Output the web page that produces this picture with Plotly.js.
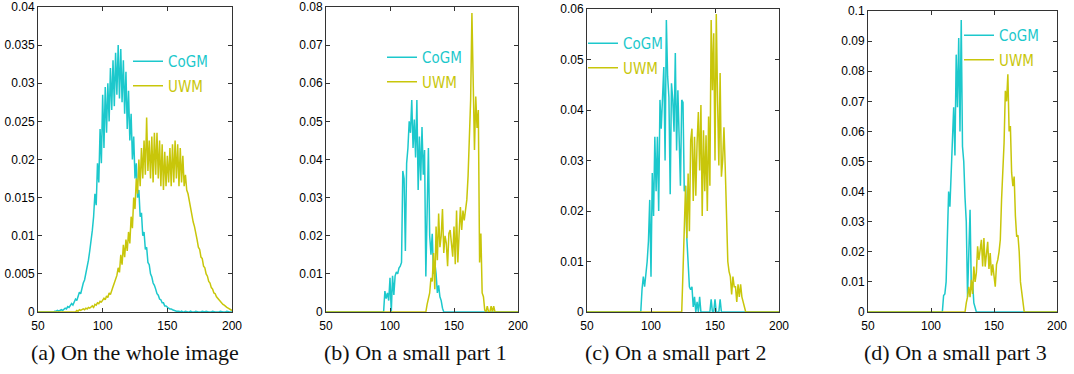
<!DOCTYPE html>
<html>
<head>
<meta charset="utf-8">
<script src="https://cdn.plot.ly/plotly-3.0.1.min.js"></script>
<style>html,body{margin:0;padding:0;background:#fff;}#chart{width:1074px;height:374px;}</style>
</head>
<body>
<div id="chart"></div>
<script>
// grey-level bins (histogram abscissa), 50..200
const levels = [];
for (let v = 50; v <= 200; v++) levels.push(v);

const xTicks = [50, 100, 150, 200];
const captions = ["(a) On the whole image", "(b) On a small part 1", "(c) On a small part 2", "(d) On a small part 3"];
const seriesNames = ["CoGM", "UWM"];
const yMax = [0.04, 0.08, 0.06, 0.1];
const yStep = [0.005, 0.01, 0.01, 0.01];

// (a) whole image
const cogmA = [
0,0,0,0,0,0,0,0,0,0,
0,0,0,0.0001,0.0001,0.0002,0.0001,0.0002,0.0003,0.0002,
0.0004,0.0005,0.0004,0.0007,0.0006,0.0009,0.0011,0.0009,0.0014,0.0017,
0.0015,0.0022,0.0026,0.0024,0.0033,0.0038,0.0042,0.0050,0.0057,0.0068,
0.0080,0.0092,0.0107,0.0125,0.0155,0.0140,0.0195,0.0170,0.0240,0.0195,
0.0285,0.0215,0.0295,0.0235,0.0300,0.0250,0.0320,0.0265,0.0330,0.0270,
0.0340,0.0285,0.0350,0.0280,0.0345,0.0275,0.0330,0.0260,0.0315,0.0240,
0.0290,0.0225,0.0260,0.0200,0.0230,0.0175,0.0195,0.0150,0.0160,0.0125,
0.0130,0.0100,0.0105,0.0082,0.0085,0.0065,0.0062,0.0050,0.0046,0.0038,
0.0035,0.0030,0.0024,0.0022,0.0017,0.0016,0.0012,0.0012,0.0008,0.0008,
0.0006,0.0005,0.0004,0.0004,0.0003,0.0002,0.0002,0.0001,0.0001,0.0001,
0,0.0001,0,0,0.0001,0,0,0,0.0001,0,
0,0,0.0001,0,0,0,0,0.0001,0,0,
0.0001,0,0,0,0,0.0001,0,0,0,0,
0,0.0001,0,0,0,0,0.0001,0,0,0,
0];
const uwmA = [
0,0,0,0,0,0,0,0,0,0,
0,0,0,0,0,0,0,0,0,0,
0,0,0,0,0,0,0,0,0,0,
0.0002,0.0001,0.0003,0.0002,0.0003,0.0004,0.0003,0.0005,0.0004,0.0006,
0.0005,0.0007,0.0008,0.0006,0.0010,0.0009,0.0012,0.0011,0.0014,0.0013,
0.0016,0.0018,0.0016,0.0021,0.0019,0.0025,0.0023,0.0030,0.0033,0.0038,
0.0042,0.0048,0.0058,0.0052,0.0075,0.0062,0.0088,0.0072,0.0095,0.0080,
0.0105,0.0090,0.0125,0.0110,0.0150,0.0135,0.0175,0.0155,0.0200,0.0165,
0.0215,0.0175,0.0225,0.0180,0.0255,0.0185,0.0225,0.0175,0.0230,0.0170,
0.0235,0.0180,0.0235,0.0175,0.0225,0.0165,0.0220,0.0160,0.0210,0.0165,
0.0205,0.0170,0.0215,0.0165,0.0220,0.0170,0.0225,0.0175,0.0220,0.0165,
0.0215,0.0170,0.0205,0.0165,0.0180,0.0160,0.0155,0.0145,0.0135,0.0128,
0.0118,0.0112,0.0100,0.0095,0.0085,0.0082,0.0072,0.0070,0.0060,0.0058,
0.0050,0.0047,0.0040,0.0038,0.0032,0.0030,0.0025,0.0024,0.0020,0.0018,
0.0015,0.0014,0.0012,0.0010,0.0009,0.0007,0.0006,0.0005,0.0004,0.0003,
0.0002];

// (b) small part 1
const cogmB = [
0,0,0,0,0,0,0,0,0,0,
0,0,0,0,0,0,0,0,0,0,
0,0,0,0,0,0,0,0,0,0,
0,0,0,0,0,0,0,0,0,0,
0,0,0,0,0,0,0.0055,0.0035,0.0050,0.0030,
0.0090,0,0.0095,0.0045,0.0095,0.0105,0.0100,0.0115,0.0120,0.0130,
0.0370,0.0350,0.0160,0.0390,0.0430,0.0500,0.0470,0.0556,0.0430,0.0505,
0.0405,0.0556,0.0320,0.0460,0.0345,0.0485,0.0360,0.0425,0.0093,0.0250,
0.0430,0.0200,0.0150,0.0205,0.0100,0.0130,0.0100,0.0050,0.0070,0.0040,
0.0030,0.0010,0,0,0,0,0,0,0,0,
0,0,0,0,0,0,0,0,0,0,
0,0,0,0,0,0,0,0,0,0,
0,0,0,0,0,0,0,0,0,0,
0,0,0,0,0,0,0,0,0,0,
0,0,0,0,0,0,0,0,0,0,
0];
const uwmB = [
0,0,0,0,0,0,0,0,0,0,
0,0,0,0,0,0,0,0,0,0,
0,0,0,0,0,0,0,0,0,0,
0,0,0,0,0,0,0,0,0,0,
0,0,0,0,0,0,0,0,0,0,
0,0,0,0,0,0,0,0,0,0,
0,0,0,0,0,0,0,0,0,0,
0,0,0,0,0,0,0,0,0,0.0020,
0.0040,0.0050,0.0090,0.0080,0.0155,0.0060,0.0224,0.0136,0.0258,0.0170,
0.0200,0.0270,0.0155,0.0200,0.0180,0.0120,0.0206,0.0215,0.0180,0.0145,
0.0224,0.0125,0.0266,0.0130,0.0206,0.0275,0.0215,0.0266,0.0240,0.0270,
0.0294,0.0357,0.0450,0.0556,0.0784,0.0556,0.0425,0.0565,0.0483,0.0530,
0.0130,0.0206,0.0050,0.0040,0.0005,0,0.0015,0,0,0.0015,
0,0.0015,0,0,0,0,0,0,0,0,
0,0,0,0,0,0,0,0,0,0,
0];

// (c) small part 2
const cogmC = [
0,0,0,0,0,0,0,0,0,0,
0,0,0,0,0,0,0,0,0,0,
0,0,0,0,0,0,0,0,0,0,
0,0,0,0,0,0,0,0,0,0,
0,0,0,0.0045,0.0070,0.0050,0.0070,0.0100,0.0140,0.0222,
0.0070,0.0275,0.0190,0.0347,0.0239,0.0347,0.0200,0.0420,0.0363,0.0420,
0.0485,0.0300,0.0578,0.0466,0.0425,0.0233,0.0453,0.0420,0.0357,0.0513,
0.0320,0.0439,0.0357,0.0250,0.0420,0.0415,0.0239,0.0250,0.0146,0.0100,
0.0050,0.0044,0.0050,0.0010,0.0030,0,0.0020,0,0.0030,0,
0,0,0,0,0,0,0,0.0025,0,0,
0.0025,0,0,0,0.0025,0,0,0,0,0,
0,0,0,0,0,0,0,0,0,0,
0,0,0,0,0,0,0,0,0,0,
0,0,0,0,0,0,0,0,0,0,
0,0,0,0,0,0,0,0,0,0,
0];
const uwmC = [
0,0,0,0,0,0,0,0,0,0,
0,0,0,0,0,0,0,0,0,0,
0,0,0,0,0,0,0,0,0,0,
0,0,0,0,0,0,0,0,0,0,
0,0,0,0,0,0,0,0,0,0,
0,0,0,0,0,0,0,0,0,0,
0,0,0,0,0,0,0,0,0,0,
0,0,0,0,0,0.0080,0.0200,0.0250,0.0146,0.0274,
0.0160,0.0340,0.0363,0.0220,0.0347,0.0230,0.0335,0.0396,0.0280,0.0410,
0.0190,0.0360,0.0239,0.0350,0.0200,0.0387,0.0250,0.0578,0.0439,0.0552,
0.0300,0.0590,0.0420,0.0290,0.0473,0.0268,0.0300,0.0366,0.0285,0.0180,
0.0100,0.0080,0.0070,0.0035,0.0070,0.0050,0.0050,0.0020,0.0055,0.0030,
0.0055,0.0030,0.0020,0.0010,0,0,0,0,0,0,
0,0,0,0,0,0,0,0,0,0,
0,0,0,0,0,0,0,0,0,0,
0];

// (d) small part 3
const cogmD = [
0,0,0,0,0,0,0,0,0,0,
0,0,0,0,0,0,0,0,0,0,
0,0,0,0,0,0,0,0,0,0,
0,0,0,0,0,0,0,0,0,0,
0,0,0,0,0,0,0,0,0,0,
0,0,0,0,0,0,0,0,0,0,
0.0055,0.0060,0.0100,0.0300,0.0400,0.0350,0.0450,0.0600,0.0680,0.0520,
0.0855,0.0680,0.0910,0.0600,0.0970,0.0550,0.0500,0.0380,0.0300,0.0050,
0.0200,0.0340,0.0080,0.0100,0.0030,0.0010,0,0,0,0,
0,0,0,0,0,0,0,0,0,0,
0,0,0,0,0,0,0,0,0,0,
0,0,0,0,0,0,0,0,0,0,
0,0,0,0,0,0,0,0,0,0,
0,0,0,0,0,0,0,0,0,0,
0,0,0,0,0,0,0,0,0,0,
0];
const uwmD = [
0,0,0,0,0,0,0,0,0,0,
0,0,0,0,0,0,0,0,0,0,
0,0,0,0,0,0,0,0,0,0,
0,0,0,0,0,0,0,0,0,0,
0,0,0,0,0,0,0,0,0,0,
0,0,0,0,0,0,0,0,0,0,
0,0,0,0,0,0,0,0,0,0,
0,0,0,0,0,0,0,0,0.0030,0.0050,
0.0084,0.0049,0.0107,0.0060,0.0151,0.0100,0.0130,0.0218,0.0173,0.0200,
0.0240,0.0151,0.0246,0.0151,0.0200,0.0233,0.0143,0.0196,0.0121,0.0158,
0.0120,0.0084,0.0158,0.0173,0.0200,0.0240,0.0373,0.0450,0.0562,0.0735,
0.0700,0.0790,0.0600,0.0618,0.0462,0.0418,0.0450,0.0318,0.0250,0.0255,
0.0200,0.0100,0.0060,0.0030,0,0,0,0,0,0,
0,0,0,0,0,0,0,0,0,0,
0,0,0,0,0,0,0,0,0,0,
0];

const cogmSets = [cogmA, cogmB, cogmC, cogmD];
const uwmSets = [uwmA, uwmB, uwmC, uwmD];

const W = 1074, H = 374;
const CYAN = "rgb(28,200,204)";
const YEL = "rgb(200,198,10)";
// plot boxes in pixels: [left, right, top, bottom]
const boxes = [[38, 232, 7, 312], [326, 518, 7, 312], [587, 779, 9, 312], [868, 1057, 11, 312]];
// legend anchor (px): text start x, first row centre y
const legendPos = [[170, 61], [424, 57], [625, 43], [1001, 35]];
const capCenters = [135, 415, 675, 955];

const tickFont = {family: "Liberation Sans, Arial, sans-serif", size: 12, color: "#000"};
const legFont = {family: "DejaVu Sans Condensed, Roboto Condensed, Liberation Sans Narrow, Roboto, sans-serif", size: 15};

const data = [];
const layout = {
  width: W, height: H,
  margin: {l: 0, r: 0, t: 0, b: 0},
  paper_bgcolor: "#fff", plot_bgcolor: "#fff",
  showlegend: true,
  annotations: []
};

for (let i = 0; i < 4; i++) {
  const s = i === 0 ? "" : String(i + 1);
  const b = boxes[i];
  const lg = i === 0 ? "legend" : "legend" + (i + 1);
  layout["xaxis" + s] = {
    domain: [b[0] / W, b[1] / W],
    anchor: "y" + s,
    range: [50, 200],
    tickvals: xTicks,
    ticks: "inside", ticklen: 4, tickcolor: "#333",
    ticklabelstandoff: 3,
    showline: true, linecolor: "#333", linewidth: 1, mirror: "ticks",
    showgrid: false, zeroline: false,
    tickfont: tickFont
  };
  layout["yaxis" + s] = {
    domain: [(H - b[3]) / H, (H - b[2]) / H],
    anchor: "x" + s,
    range: [0, yMax[i]],
    dtick: yStep[i], tick0: 0,
    ticks: "inside", ticklen: 4, tickcolor: "#333",
    showline: true, linecolor: "#333", linewidth: 1, mirror: "ticks",
    showgrid: false, zeroline: false,
    tickfont: tickFont
  };
  layout[lg] = {
    x: (legendPos[i][0] - 42) / W,
    y: (H - (legendPos[i][1] - 16)) / H,
    xanchor: "left", yanchor: "top",
    bgcolor: "rgba(0,0,0,0)", borderwidth: 0,
    font: legFont,
    tracegroupgap: 2
  };
  data.push({
    type: "scatter", mode: "lines",
    x: levels, y: cogmSets[i],
    xaxis: "x" + s, yaxis: "y" + s,
    line: {color: CYAN, width: 1.5},
    name: '<span style="color:' + CYAN + '">' + seriesNames[0] + '</span>',
    legend: lg, legendgroup: "c" + i
  });
  data.push({
    type: "scatter", mode: "lines",
    x: levels, y: uwmSets[i],
    xaxis: "x" + s, yaxis: "y" + s,
    line: {color: YEL, width: 1.5},
    name: '<span style="color:' + YEL + '">' + seriesNames[1] + '</span>',
    legend: lg, legendgroup: "u" + i
  });
  layout.annotations.push({
    xref: "paper", yref: "paper",
    x: capCenters[i] / W, y: (H - 352) / H,
    xanchor: "center", yanchor: "middle",
    text: captions[i], showarrow: false,
    font: {family: "Liberation Serif, DejaVu Serif, serif", size: 22, color: "#111"}
  });
}

Plotly.newPlot("chart", data, layout, {staticPlot: true, displayModeBar: false});
</script>
</body>
</html>
